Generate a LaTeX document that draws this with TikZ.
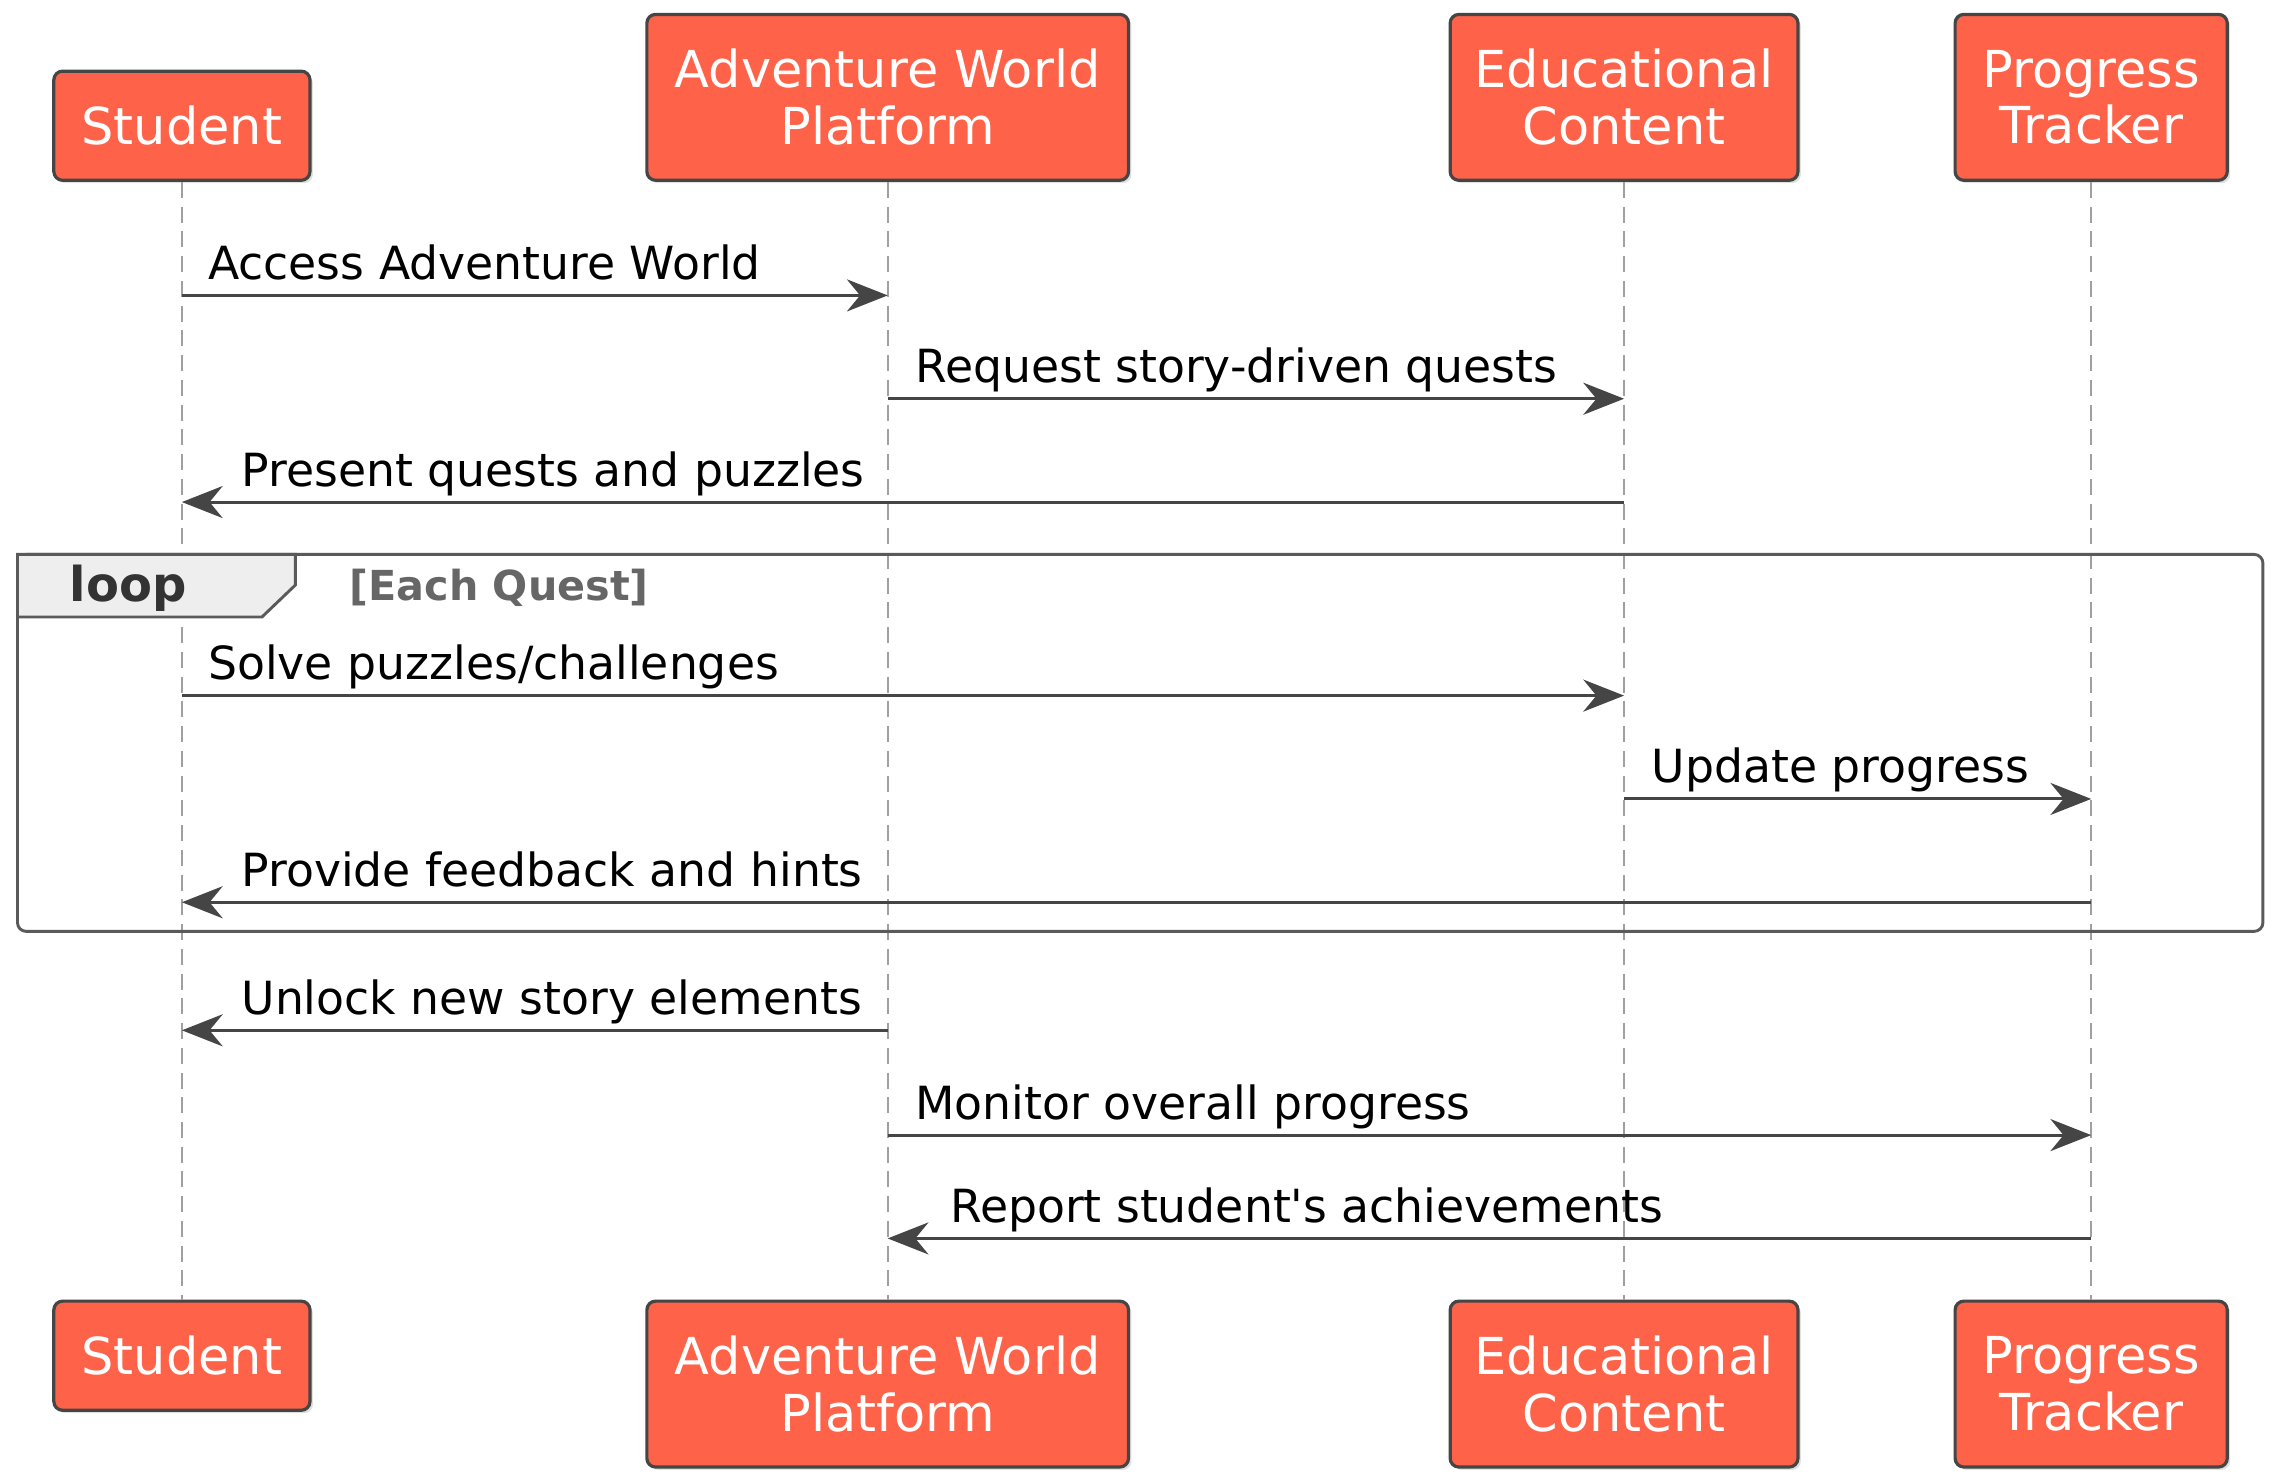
\documentclass[tikz,border=0pt]{standalone}
\usepackage{fontspec}
\setmainfont{DejaVu Sans}
\newfontfamily\plainfont{DejaVu Sans}
\usepackage{tikz}
\usetikzlibrary{arrows.meta,shadows}

\definecolor{tomato}{HTML}{FE6349}
\definecolor{edgegray}{HTML}{454545}
\definecolor{linegray}{HTML}{A0A0A0}
\definecolor{framegray}{HTML}{5A5A5A}
\definecolor{tabgray}{HTML}{EEEEEE}

\tikzset{
  actor/.style={draw=edgegray, fill=tomato, line width=2.2pt, rounded corners=6pt,
    text=white, align=center, inner sep=0pt,
    font=\fontsize{35}{39}\selectfont,
    drop shadow={shadow xshift=2pt, shadow yshift=-2pt, fill=black, opacity=0.12}},
  lifeline/.style={draw=linegray, line width=1.5pt, dash pattern=on 11pt off 6pt},
  msg/.style={draw=edgegray, line width=2pt,
    -{Stealth[length=28pt, width=22pt, inset=9pt]}},
  lbl/.style={font=\plainfont\fontsize{31.4}{36}\selectfont, inner sep=0pt, anchor=base west},
}

\begin{document}
\begin{tikzpicture}[x=1pt, y=-1pt]
  \useasboundingbox (0,0) rectangle (1564,1019);

  %Define nodes
  \node[actor, anchor=south, minimum width=176pt, minimum height=75pt]  (student)  at (125,125)  {Student};
  \node[actor, anchor=south, minimum width=331pt, minimum height=114pt] (platform) at (610,125)  {Adventure World\\Platform};
  \node[actor, anchor=south, minimum width=239pt, minimum height=114pt] (content)  at (1116,125) {Educational\\Content};
  \node[actor, anchor=south, minimum width=187pt, minimum height=114pt] (tracker)  at (1437,125) {Progress\\Tracker};

  \node[actor, anchor=north, minimum width=176pt, minimum height=75pt]  (studentB)  at (125,893)  {Student};
  \node[actor, anchor=north, minimum width=331pt, minimum height=114pt] (platformB) at (610,893)  {Adventure World\\Platform};
  \node[actor, anchor=north, minimum width=239pt, minimum height=114pt] (contentB)  at (1116,893) {Educational\\Content};
  \node[actor, anchor=north, minimum width=187pt, minimum height=114pt] (trackerB)  at (1437,893) {Progress\\Tracker};

  % Lifelines
  \foreach \p in {student,platform,content,tracker}
    \draw[lifeline] (\p.south) -- (\p B.north);

  % Message rows
  \foreach \y [count=\i] in {203,274,345,478,549,620,708,780,851}
    \coordinate (r\i) at (0,\y);

  % Loop frame
  \draw[draw=framegray, line width=2pt, rounded corners=6pt] (12,381) rectangle (1555,640);
  \draw[draw=framegray, fill=tabgray, line width=2pt] (12,424) -- (12,381) -- (203,381) -- (203,402) -- (180,424) -- cycle;
  \node[font=\bfseries\fontsize{33}{36}\selectfont, text=black!80] (looplbl) at (88,404) {loop};
  \node[font=\bfseries\fontsize{28.4}{32}\selectfont, text=black!60, anchor=west, inner sep=0pt] (guard) at (240,404) {[Each Quest]};

  % Connect the nodes
  \draw[msg] (student |- r1) -- (platform |- r1) node[lbl, pos=0, xshift=17pt, yshift=11pt] (m1) {Access Adventure World};
  \draw[msg] (platform |- r2) -- (content |- r2) node[lbl, pos=0, xshift=18pt, yshift=11pt] (m2) {Request story-driven quests};
  \draw[msg] (content |- r3) -- (student |- r3) node[lbl, pos=1, xshift=40pt, yshift=11pt] (m3) {Present quests and puzzles};
  \draw[msg] (student |- r4) -- (content |- r4) node[lbl, pos=0, xshift=17pt, yshift=11pt] (m4) {Solve puzzles/challenges};
  \draw[msg] (content |- r5) -- (tracker |- r5) node[lbl, pos=0, xshift=18pt, yshift=11pt] (m5) {Update progress};
  \draw[msg] (tracker |- r6) -- (student |- r6) node[lbl, pos=1, xshift=40pt, yshift=11pt] (m6) {Provide feedback and hints};
  \draw[msg] (platform |- r7) -- (student |- r7) node[lbl, pos=1, xshift=40pt, yshift=11pt] (m7) {Unlock new story elements};
  \draw[msg] (platform |- r8) -- (tracker |- r8) node[lbl, pos=0, xshift=18pt, yshift=11pt] (m8) {Monitor overall progress};
  \draw[msg] (tracker |- r9) -- (platform |- r9) node[lbl, pos=1, xshift=42pt, yshift=11pt] (m9) {Report student's achievements};

\end{tikzpicture}
\end{document}
